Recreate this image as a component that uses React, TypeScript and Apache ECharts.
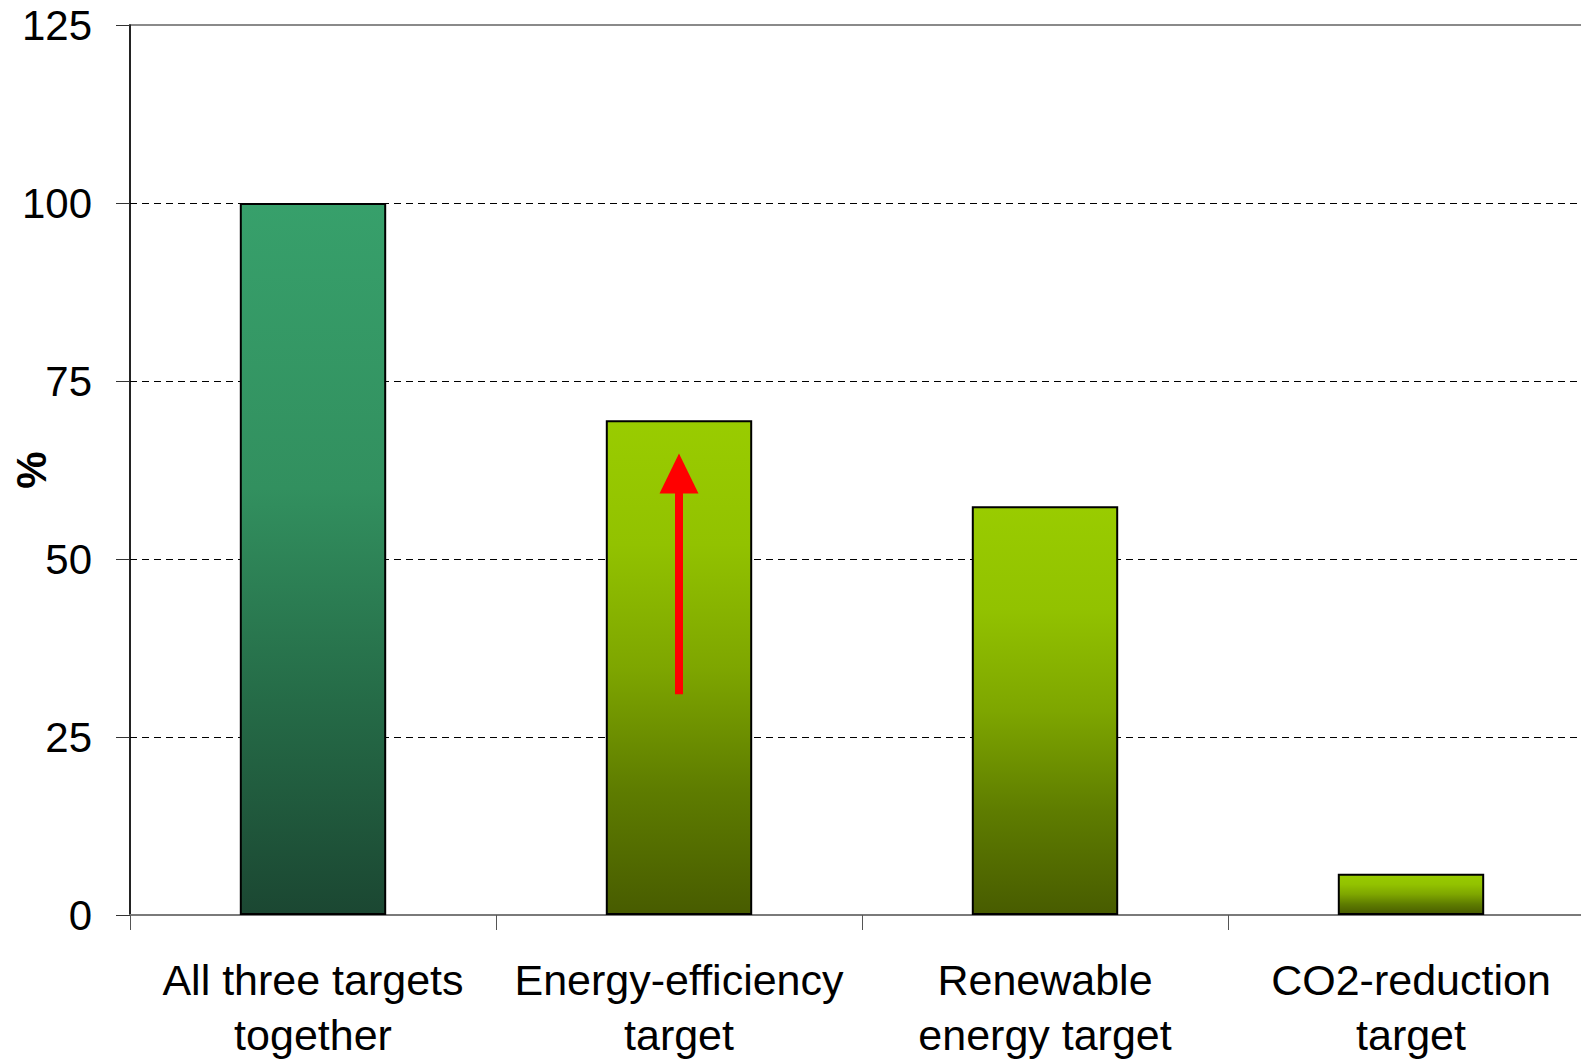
import React, { useEffect, useRef } from "react";
import * as echarts from "echarts";

const categories = [
  "All three targets\ntogether",
  "Energy-efficiency\ntarget",
  "Renewable\nenergy target",
  "CO2-reduction\ntarget",
];
const values = [100, 69.5, 57.4, 5.8];
const yTicks = [0, 25, 50, 75, 100, 125];
const arrowFrom = 31;
const arrowTo = 62;

const darkGreen = () =>
  new echarts.graphic.LinearGradient(0, 0, 0, 1, [
    { offset: 0, color: "#37a06b" },
    { offset: 0.4, color: "#32905f" },
    { offset: 0.7, color: "#256b47" },
    { offset: 1, color: "#1b4732" },
  ]);
const limeGreen = () =>
  new echarts.graphic.LinearGradient(0, 0, 0, 1, [
    { offset: 0, color: "#99cc00" },
    { offset: 0.25, color: "#92c200" },
    { offset: 0.5, color: "#7ea600" },
    { offset: 0.75, color: "#5e7c00" },
    { offset: 1, color: "#485c00" },
  ]);

export default function App() {
  const ref = useRef<HTMLDivElement>(null);
  useEffect(() => {
    const chart = echarts.init(ref.current!, null, { renderer: "svg" });
    const font = "'Liberation Sans', Arial, sans-serif";
    chart.setOption({
      animation: false,
      backgroundColor: "#ffffff",
      grid: {
        left: 130,
        right: -13,
        top: 25,
        bottom: 145,
        containLabel: false,
        outerBoundsMode: "none",
        show: true,
        borderColor: "#8a8a8a",
        borderWidth: 2,
      },
      xAxis: {
        type: "category",
        data: categories,
        axisLine: { show: true, lineStyle: { color: "#7a7a7a", width: 2 } },
        axisTick: { show: true, length: 15, interval: 0, lineStyle: { color: "#555", width: 1 } },
        axisLabel: {
          interval: 0,
          color: "#000",
          fontFamily: font,
          fontSize: 43,
          lineHeight: 55,
          margin: 37,
        },
        splitLine: { show: false },
      },
      yAxis: {
        type: "value",
        min: yTicks[0],
        max: yTicks[yTicks.length - 1],
        interval: 25,
        name: "%",
        nameLocation: "middle",
        nameGap: 78,
        nameRotate: 90,
        nameMoveOverlap: false,
        nameTextStyle: { fontFamily: font, fontSize: 42, fontWeight: "bold", color: "#000" },
        axisLine: { show: true, lineStyle: { color: "#000", width: 1.5 } },
        axisTick: { show: true, length: 14, lineStyle: { color: "#333", width: 1 } },
        axisLabel: {
          color: "#000",
          fontFamily: font,
          fontSize: 42,
          margin: 38,
          formatter: (v: number) => (yTicks.includes(v) ? String(v) : ""),
        },
        splitLine: {
          show: true,
          showMaxLine: false,
          showMinLine: false,
          lineStyle: { color: "#000", width: 1, type: [7, 5] },
        },
      },
      series: [
        {
          type: "bar",
          barWidth: "40%",
          data: values.map((v, i) => ({
            value: v,
            itemStyle: {
              color: i === 0 ? darkGreen() : limeGreen(),
              borderColor: "#000",
              borderWidth: 2,
            },
          })),
          markLine: {
            silent: true,
            symbol: ["none", "triangle"],
            symbolSize: [39, 40],
            label: { show: false },
            lineStyle: { color: "#ff0000", width: 8, type: "solid" },
            emphasis: { disabled: true },
            data: [
              [
                { coord: [categories[1], arrowFrom] },
                { coord: [categories[1], arrowTo] },
              ],
            ],
          },
        },
      ],
    });
    return () => chart.dispose();
  }, []);
  return (
    <div
      ref={ref}
      style={{ position: "absolute", left: 0, top: 0, width: 1581, height: 1060 }}
    />
  );
}
